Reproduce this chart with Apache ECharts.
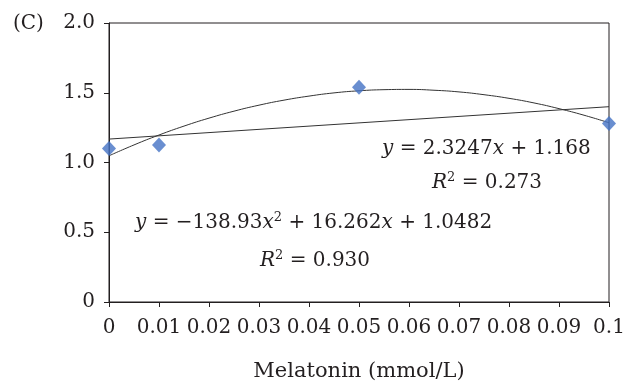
<!DOCTYPE html>
<html>
<head>
<meta charset="utf-8">
<script src="https://cdn.jsdelivr.net/npm/echarts@6/dist/echarts.min.js"></script>
<style>html,body{margin:0;padding:0;background:#fff}#c{width:629px;height:387px}</style>
</head>
<body>
<div id="c"></div>
<script>
// Measured data points
var pointX = [0, 0.01, 0.05, 0.1];
var pointY = [1.10, 1.125, 1.54, 1.28];
// Trend lines
var quadX = [0, 0.005, 0.01, 0.015, 0.02, 0.025, 0.03, 0.035, 0.04, 0.045, 0.05, 0.055, 0.06, 0.065, 0.07, 0.075, 0.08, 0.085, 0.09, 0.095, 0.1];
var quadY = [1.048, 1.126, 1.197, 1.261, 1.318, 1.368, 1.411, 1.447, 1.476, 1.499, 1.514, 1.522, 1.524, 1.518, 1.506, 1.486, 1.460, 1.427, 1.386, 1.339, 1.285];
var linX = [0, 0.1];
var linY = [1.168, 1.400];
// Tick labels
var xTickLabels = ['0', '0.01', '0.02', '0.03', '0.04', '0.05', '0.06', '0.07', '0.08', '0.09', '0.1'];
var yTickLabels = ['0', '0.5', '1.0', '1.5', '2.0'];
var xTitle = 'Melatonin (mmol/L)';
var panelLabel = '(C)';

var FONT = 'DejaVu Serif';
var TXT = '#231f20';

function zip(a, b) { return a.map(function (v, i) { return [v, b[i]]; }); }

var chart = echarts.init(document.getElementById('c'), null, { renderer: 'canvas' });
var rich = {
  i: { fontFamily: FONT, fontSize: 20, fontStyle: 'italic', color: TXT },
  sup: { fontFamily: FONT, fontSize: 13, color: TXT, padding: [0, 0, 10, 0] },
  n: { fontFamily: FONT, fontSize: 20, color: TXT }
};
function eqText(x, y, txt) {
  return { type: 'text', left: x, top: y, style: { text: txt, rich: rich, font: '20px "DejaVu Serif"', fill: TXT } };
}
chart.setOption({
  animation: false,
  grid: { left: 109, right: 20, top: 23, bottom: 76, show: true, borderColor: '#231f20', borderWidth: 1 },
  xAxis: {
    type: 'value', min: 0, max: 0.1, interval: 0.01,
    name: xTitle, nameLocation: 'middle', nameGap: 59,
    nameTextStyle: { fontFamily: FONT, fontSize: 21, color: TXT },
    axisLine: { show: true, lineStyle: { color: '#231f20', width: 1 } },
    axisTick: { show: true, length: 5, lineStyle: { color: '#231f20' } },
    axisLabel: {
      margin: 16, fontFamily: FONT, fontSize: 20, color: TXT,
      formatter: function (v) { return xTickLabels[Math.round(v * 100)]; }
    },
    splitLine: { show: false }
  },
  yAxis: {
    type: 'value', min: 0, max: 2, interval: 0.5,
    axisLine: { show: true, lineStyle: { color: '#231f20', width: 1 } },
    axisTick: { show: true, length: 5, lineStyle: { color: '#231f20' } },
    axisLabel: {
      margin: 14, fontFamily: FONT, fontSize: 20, color: TXT,
      formatter: function (v) { return yTickLabels[Math.round(v * 2)]; }
    },
    splitLine: { show: false }
  },
  series: [
    { type: 'line', data: zip(quadX, quadY), smooth: true, symbol: 'none',
      lineStyle: { color: '#333', width: 1 }, z: 2 },
    { type: 'line', data: zip(linX, linY), symbol: 'none',
      lineStyle: { color: '#333', width: 1 }, z: 2 },
    { type: 'scatter', data: zip(pointX, pointY), symbol: 'diamond', symbolSize: [14, 15],
      itemStyle: { color: '#4472c4' }, z: 3 }
  ],
  graphic: [
    { type: 'text', left: 13, top: 14, style: { text: panelLabel, font: '20px "DejaVu Serif"', fill: TXT } },
    eqText(382, 139, '{i|y}{n| = 2.3247}{i|x}{n| + 1.168}'),
    eqText(432, 171, '{i|R}{sup|2}{n| = 0.273}'),
    eqText(135, 211, '{i|y}{n| = \u2212138.93}{i|x}{sup|2}{n| + 16.262}{i|x}{n| + 1.0482}'),
    eqText(260, 249, '{i|R}{sup|2}{n| = 0.930}')
  ]
});
</script>
</body>
</html>
